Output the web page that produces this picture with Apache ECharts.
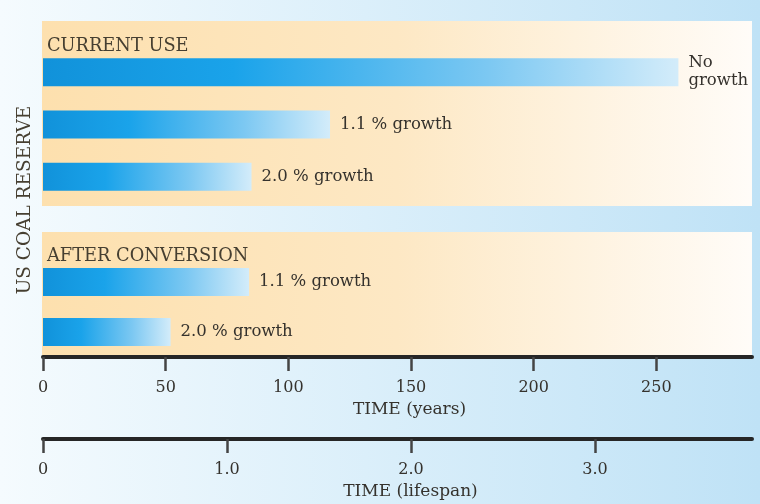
<!DOCTYPE html>
<html>
<head>
<meta charset="utf-8">
<script src="https://cdn.jsdelivr.net/npm/echarts@6/dist/echarts.min.js"></script>
<style>
html,body{margin:0;padding:0;}
#chart{width:760px;height:504px;}
</style>
</head>
<body>
<div id="chart"></div>
<script>
// ---- data ----
const currentCats = ['No growth', '1.1 % growth', '2.0 % growth'];
const currentLabels = ['No\ngrowth', '1.1 % growth', '2.0 % growth'];
const currentYears = [259, 117, 85];
const conversionCats = ['1.1 % growth', '2.0 % growth'];
const conversionLabels = ['1.1 % growth', '2.0 % growth'];
const conversionYears = [84, 52];
const panelTitles = ['CURRENT USE', 'AFTER CONVERSION'];
const yAxisTitle = 'US COAL RESERVE';
const yearsAxisTitle = 'TIME (years)';
const lifespanAxisTitle = 'TIME (lifespan)';
const yearsMax = 289;
const yearsInterval = 50;
const yearsPerLifespan = 75;
const lifespanInterval = 1;

// ---- styles ----
const FONT = 'DejaVu Serif';
const TXT = '#35322d';
const barGrad = {
  type: 'linear', x: 0, y: 0, x2: 1, y2: 0,
  colorStops: [
    { offset: 0, color: '#1192da' },
    { offset: 0.3, color: '#1aa3ea' },
    { offset: 0.7, color: '#7cc8f2' },
    { offset: 1, color: '#d3ecfa' }
  ]
};
const panelGrad = {
  type: 'linear', x: 0, y: 0, x2: 1, y2: 0,
  colorStops: [
    { offset: 0, color: '#fde0ae' },
    { offset: 0.5, color: '#fde8c4' },
    { offset: 1, color: '#fffcf8' }
  ]
};
const bgGrad = {
  type: 'linear', x: 0, y: 0, x2: 1, y2: 0,
  colorStops: [
    { offset: 0, color: '#f5fbfe' },
    { offset: 1, color: '#bfe2f6' }
  ]
};

const LEFT = 43, RIGHT = 8;
const labelStyle = { fontFamily: FONT, fontSize: 16, color: TXT };

function barSeries(idx, values, labels) {
  return {
    type: 'bar',
    xAxisIndex: idx === 0 ? 0 : 1,
    yAxisIndex: idx,
    data: values,
    barWidth: 28,
    itemStyle: { color: barGrad },
    label: {
      show: true,
      position: 'right',
      distance: 10,
      fontFamily: FONT,
      fontSize: 16.5,
      lineHeight: 18,
      color: TXT,
      align: 'left',
      formatter: p => labels[p.dataIndex]
    },
    silent: true,
    animation: false
  };
}

const chart = echarts.init(document.getElementById('chart'));
chart.setOption({
  backgroundColor: bgGrad,
  animation: false,
  graphic: [
    { type: 'rect', z: -10, shape: { x: LEFT - 1, y: 21, width: 760 - RIGHT - LEFT + 1, height: 185 }, style: { fill: panelGrad } },
    { type: 'rect', z: -10, shape: { x: LEFT - 1, y: 232, width: 760 - RIGHT - LEFT + 1, height: 125 }, style: { fill: panelGrad } },
    { type: 'text', x: 47, y: 46, style: { text: panelTitles[0], fontFamily: FONT, fontSize: 17.8, fill: '#463f31', verticalAlign: 'middle' } },
    { type: 'text', x: 47, y: 256, style: { text: panelTitles[1], fontFamily: FONT, fontSize: 17.8, fill: '#463f31', verticalAlign: 'middle' } },
    { type: 'text', x: 25, y: 200, rotation: Math.PI / 2, style: { text: yAxisTitle, fontFamily: FONT, fontSize: 18.5, fill: '#463f31', align: 'center', verticalAlign: 'middle' } }
  ],
  grid: [
    { left: LEFT, right: RIGHT, top: 46, height: 157 },
    { left: LEFT, right: RIGHT, top: 257, height: 100 }
  ],
  xAxis: [
    { gridIndex: 0, type: 'value', min: 0, max: yearsMax, show: false },
    {
      gridIndex: 1, type: 'value', min: 0, max: yearsMax, interval: yearsInterval,
      position: 'bottom',
      axisLine: { show: true, lineStyle: { color: '#262626', width: 4 } },
      axisTick: { show: true, length: 14, lineStyle: { color: '#444', width: 2.5 } },
      axisLabel: { ...labelStyle, margin: 23, showMaxLabel: false },
      splitLine: { show: false },
      name: yearsAxisTitle, nameLocation: 'middle', nameGap: 44,
      nameTextStyle: { ...labelStyle, fontSize: 17, padding: [0, 0, 0, 24] }
    },
    {
      gridIndex: 1, type: 'value', min: 0, max: yearsMax / yearsPerLifespan, interval: lifespanInterval,
      position: 'bottom', offset: 82,
      axisLine: { show: true, lineStyle: { color: '#262626', width: 4 } },
      axisTick: { show: true, length: 14, lineStyle: { color: '#444', width: 2.5 } },
      axisLabel: { ...labelStyle, margin: 23, showMaxLabel: false, formatter: v => v === 0 ? '0' : v.toFixed(1) },
      splitLine: { show: false },
      name: lifespanAxisTitle, nameLocation: 'middle', nameGap: 44,
      nameTextStyle: { ...labelStyle, fontSize: 17, padding: [0, 0, 0, 26] }
    }
  ],
  yAxis: [
    { gridIndex: 0, type: 'category', data: currentCats, inverse: true, show: false },
    { gridIndex: 1, type: 'category', data: conversionCats, inverse: true, show: false }
  ],
  series: [
    barSeries(0, currentYears, currentLabels),
    barSeries(1, conversionYears, conversionLabels)
  ]
});
</script>
</body>
</html>
